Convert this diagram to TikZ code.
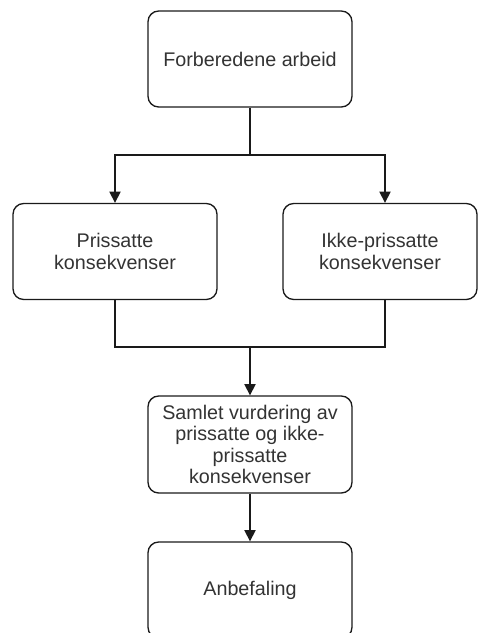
\documentclass[tikz,border=0pt]{standalone}
\usepackage{fontspec}
\setmainfont{Liberation Sans}
\usetikzlibrary{arrows.meta,calc}
\definecolor{txt}{HTML}{333333}
\definecolor{ln}{HTML}{1A1A1A}
\begin{document}
\begin{tikzpicture}[x=0.75pt,y=-0.75pt,
 box/.style={draw=ln, line width=1pt, rounded corners=8pt, minimum width=153pt, minimum height=72pt, align=center, font=\fontsize{14.8}{16}\selectfont, text=txt, inner sep=0pt},
 conn/.style={draw=ln, line width=1pt},
 arr/.style={conn, -{Triangle[width=8.5pt,length=8.5pt]}}]
\useasboundingbox (0,0) rectangle (478,633);
\node[box] (top) at (250,59) {Forberedene arbeid};
\node[box] (left) at (115,251.5) {Prissatte\\konsekvenser};
\node[box, minimum width=145.5pt] (right) at (380,251.5) {Ikke-prissatte\\konsekvenser};
\node[box, minimum height=72.75pt] (mid) at (250,444.5) {Samlet vurdering av\\prissatte og ikke-\\prissatte\\konsekvenser};
\node[box] (bot) at (250,590) {Anbefaling};
\coordinate (j1) at (250,155);
\coordinate (j2) at (250,347);
\draw[conn] (top.south) -- (j1);
\draw[arr] (j1) -| (left.north);
\draw[arr] (j1) -| ([xshift=3.75pt]right.north);
\draw[conn] (left.south) |- (j2);
\draw[conn] ([xshift=3.75pt]right.south) |- (j2);
\draw[arr] (j2) -- (mid.north);
\draw[arr] (mid.south) -- (bot.north);
\end{tikzpicture}
\end{document}
